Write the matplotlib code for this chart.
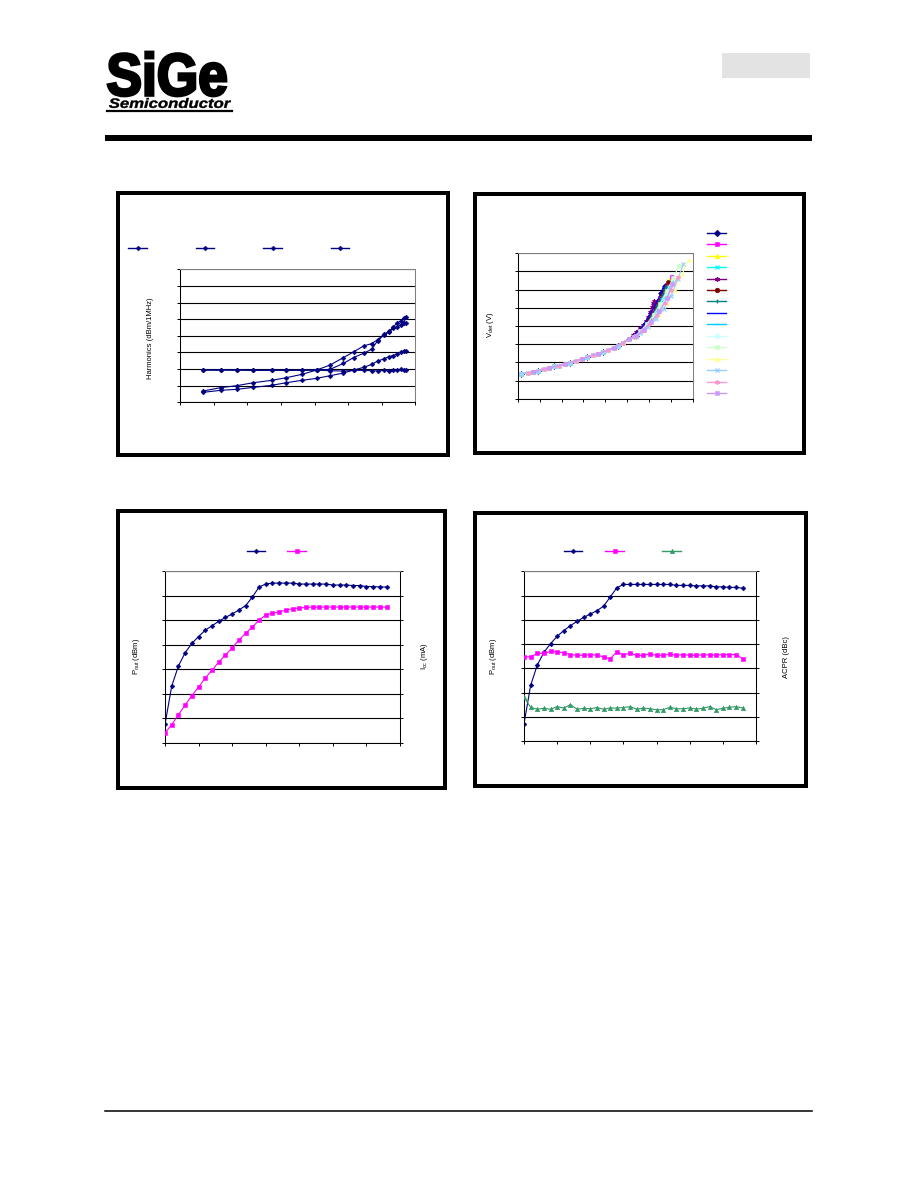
import numpy as np
import matplotlib
matplotlib.use("Agg")
import matplotlib.pyplot as plt
from matplotlib.lines import Line2D
from matplotlib.patches import Rectangle, PathPatch
from matplotlib.textpath import TextPath
from matplotlib.font_manager import FontProperties
from matplotlib.transforms import Affine2D

W, H = 918, 1188

# ---- harmonics vs output power (top left) ----
HARM_POUT = [3.4, 6.0, 8.4, 10.9, 13.6, 15.8, 18.1, 20.3, 22.3, 24.3, 25.8,
             27.3, 28.5, 29.4, 30.3, 31.1, 31.7, 32.3, 32.8, 33.3, 33.6]
HARM_A = [-73.2, -71.2, -70.0, -68.2, -66.8, -65.2, -63.2, -60.6, -57.6, -53.1, -49.7,
          -46.1, -44.7, -42.3, -39.1, -37.3, -34.9, -32.1, -31.3, -29.5, -28.5]
HARM_B = [-60.6, -60.6, -60.6, -60.6, -60.6, -60.6, -60.6, -60.6, -60.2, -56.6, -53.1,
          -50.5, -48.1, -42.9, -39.7, -37.7, -35.5, -34.5, -33.5, -32.1, -32.1]
HARM_C = [-74.0, -72.8, -72.2, -71.0, -69.8, -68.2, -66.8, -65.6, -64.0, -62.4, -60.6,
          -59.0, -57.2, -55.2, -53.9, -52.5, -51.9, -50.9, -49.9, -49.1, -49.1]
HARM_D = [-60.6, -60.6, -60.6, -60.8, -60.8, -60.8, -60.8, -60.6, -61.0, -61.2, -60.8,
          -60.8, -61.0, -61.2, -60.8, -61.0, -60.8, -60.8, -60.2, -60.6, -60.4]

# ---- detector voltage vs output power (top right), 15 traces ----
# lower part of the curve, three interleaved sampling sets
GRID_A_X = [0.8, 4.7, 8.3, 12.0, 15.9, 19.5, 22.8, 26.9]
GRID_A_Y = [0.34, 0.38, 0.445, 0.49, 0.57, 0.64, 0.725, 0.86]
GRID_B_X = [2.3, 5.9, 9.5, 13.3, 17.1, 20.6, 24.1]
GRID_B_Y = [0.35, 0.41, 0.455, 0.52, 0.60, 0.665, 0.77]
GRID_C_X = [3.4, 7.1, 10.8, 14.7, 18.3, 21.9, 25.3]
GRID_C_Y = [0.37, 0.42, 0.48, 0.55, 0.62, 0.70, 0.82]
# upper part of each trace
T1_X = [28.0, 29.3, 30.5, 31.8, 32.8, 33.5]
T1_Y = [0.94, 1.04, 1.18, 1.33, 1.45, 1.55]
T2_X = [26.5, 28.0, 29.5, 31.0, 32.5, 34.0, 35.3]
T2_Y = [0.86, 0.94, 1.05, 1.20, 1.38, 1.53, 1.68]
T3_X = [27.0, 28.5, 30.0, 31.5, 33.0, 34.5]
T3_Y = [0.88, 0.96, 1.09, 1.24, 1.43, 1.63]
T4_X = [28.0, 29.5, 31.0, 32.5, 34.0, 35.2]
T4_Y = [0.93, 1.01, 1.13, 1.26, 1.43, 1.60]
T5_X = [26.4, 27.1, 27.9, 28.7, 29.3, 29.8, 30.3, 30.6, 30.9, 31.0]
T5_Y = [0.87, 0.92, 0.97, 1.01, 1.07, 1.13, 1.19, 1.26, 1.31, 1.34]
T6_X = [27.0, 28.5, 30.0, 31.5, 33.0, 34.3]
T6_Y = [0.88, 0.96, 1.09, 1.25, 1.44, 1.61]
T7_X = [28.0, 29.5, 31.0, 32.5, 33.8]
T7_Y = [0.93, 1.03, 1.18, 1.35, 1.53]
T8_X = [26.5, 28.0, 29.5, 31.0, 32.3, 33.3]
T8_Y = [0.86, 0.96, 1.09, 1.25, 1.40, 1.55]
T9_X = [27.0, 28.5, 30.0, 31.5, 33.0, 34.5]
T9_Y = [0.88, 0.95, 1.06, 1.21, 1.38, 1.55]
T10_X = [28.0, 29.5, 31.0, 32.5, 34.0, 35.3]
T10_Y = [0.91, 1.00, 1.11, 1.25, 1.41, 1.58]
T11_X = [26.5, 28.0, 29.5, 31.0, 32.5, 34.0, 35.5, 36.8]
T11_Y = [0.85, 0.93, 1.03, 1.15, 1.30, 1.48, 1.66, 1.83]
T12_X = [27.0, 28.8, 30.5, 32.3, 34.0, 35.8, 37.5, 39.0]
T12_Y = [0.86, 0.94, 1.04, 1.16, 1.31, 1.50, 1.71, 1.91]
T13_X = [28.0, 29.8, 31.5, 33.3, 35.0, 36.5, 37.8]
T13_Y = [0.90, 0.99, 1.10, 1.24, 1.41, 1.64, 1.85]
T14_X = [26.5, 28.3, 30.0, 31.8, 33.5, 35.0, 36.5]
T14_Y = [0.85, 0.93, 1.03, 1.15, 1.31, 1.50, 1.67]
T15_X = [27.0, 28.8, 30.5, 32.3, 34.0, 35.3]
T15_Y = [0.86, 0.95, 1.06, 1.20, 1.38, 1.58]

VDET_COLORS = ["#000080", "#FF00FF", "#FFFF00", "#00FFFF", "#800080", "#800000",
               "#008080", "#0000FF", "#00CCFF", "#CCFFFF", "#CCFFCC", "#FFFF99",
               "#99CCFF", "#FF99CC", "#CC99FF"]
VDET_MARKERS = ["D", "s", "^", "x", (6, 2, 0), "o", "+", "None", "_",
                "o", "s", "^", "x", (6, 2, 0), "s"]

# ---- input power sweep (bottom charts) ----
PIN = [-30, -29, -28, -27, -26, -25, -24, -23, -22, -21, -20, -19, -18, -17, -16, -15, -14,
       -13, -12, -11, -10, -9, -8, -7, -6, -5, -4, -3, -2, -1, 0, 1, 2, 3]
POUT_ICC_RUN = [3.8, 11.6, 15.7, 18.4, 20.3, 21.7, 23.0, 23.9, 24.8, 25.6, 26.3, 27.1,
                28.0, 29.7, 31.8, 32.4, 32.6, 32.6, 32.6, 32.6, 32.4, 32.4, 32.4, 32.4,
                32.4, 32.2, 32.2, 32.2, 32.1, 32.1, 31.9, 31.9, 31.8, 31.8]
ICC = [41, 75, 115, 155, 193, 228, 265, 296, 330, 359, 387, 420, 447, 473, 500, 522, 529,
       535, 541, 548, 550, 553, 554, 554, 554, 554, 554, 554, 554, 554, 554, 554, 554, 554]
POUT_ACPR_RUN = [3.6, 11.5, 15.7, 18.3, 20.1, 21.6, 22.8, 23.8, 24.7, 25.5, 26.2, 26.9,
                 27.8, 29.7, 31.6, 32.3, 32.3, 32.3, 32.3, 32.3, 32.3, 32.3, 32.3, 32.1,
                 32.1, 32.1, 32.0, 32.0, 32.0, 31.8, 31.8, 31.7, 31.7, 31.5]
ACPR_1 = [-35.2, -35.2, -33.8, -33.8, -33.0, -33.2, -33.5, -34.3, -34.6, -34.6, -34.3, -34.6,
          -35.2, -36.0, -33.2, -34.3, -33.8, -34.6, -34.6, -34.1, -34.6, -34.6, -34.1, -34.6,
          -34.3, -34.6, -34.6, -34.4, -34.4, -34.6, -34.3, -34.3, -34.3, -36.0]
ACPR_2 = [-51.9, -56.0, -56.8, -56.4, -56.8, -55.7, -56.3, -54.9, -56.8, -56.4, -56.6, -56.1,
          -56.8, -56.3, -56.3, -56.1, -55.7, -56.8, -56.3, -56.6, -57.0, -57.0, -56.0, -56.6,
          -56.6, -56.3, -56.7, -56.4, -55.7, -57.0, -56.4, -56.0, -55.7, -56.3]

NAVY = "#000080"
MAGENTA = "#FF00FF"
GREEN = "#339966"
GRAY = "#808080"

plt.rcParams["font.family"] = ["Liberation Sans", "DejaVu Sans"]
plt.rcParams["mathtext.default"] = "regular"
plt.rcParams["axes.linewidth"] = 0.75

fig = plt.figure(figsize=(W / 100, H / 100), dpi=100)
# pixel coords, origin top-left
PX = Affine2D().scale(1.0 / W, -1.0 / H).translate(0, 1) + fig.transFigure


def px_axes(x0, y0, x1, y1):
    return fig.add_axes([x0 / W, 1 - y1 / H, (x1 - x0) / W, (y1 - y0) / H])


def frame(x0, y0, x1, y1, lw=4):
    # lw in pixels, drawn inside the outer edge
    h = lw / 2
    fig.add_artist(Rectangle((x0 + h, y0 + h), x1 - x0 - lw, y1 - y0 - lw, transform=PX,
                             fc="none", ec="black", lw=lw * 0.72))


def key(x0, x1, y, color, marker, ms=3.2, mew=0.8):
    fig.add_artist(Line2D([x0, x1], [y, y], transform=PX, color=color, lw=1.0))
    fig.add_artist(Line2D([(x0 + x1) / 2], [y], transform=PX, ls="none", marker=marker,
                          ms=ms, mew=mew, color=color, mfc=color, mec=color))


def fit_text(s, x0, y0, x1, y1, prop, stroke=0.0):
    tp = TextPath((0, 0), s, size=100, prop=prop)
    bb = tp.get_extents()
    tr = (Affine2D().translate(-bb.x0, -bb.y1)
          .scale((x1 - x0) / bb.width, -(y1 - y0) / bb.height).translate(x0, y0))
    fig.add_artist(PathPatch(tr.transform_path(tp), transform=PX, fc="black",
                             ec="black", lw=stroke))


def style(ax, xlim, xticks, ylim, yticks):
    ax.set_xlim(xlim)
    ax.set_ylim(ylim)
    ax.set_xticks(xticks)
    ax.set_yticks(yticks)
    ax.tick_params(direction="out", length=2.5, width=0.7, labelbottom=False, labelleft=False)
    ax.grid(axis="y", color="black", lw=0.8)
    ax.set_axisbelow(True)
    ax.spines["top"].set_color(GRAY)
    ax.spines["right"].set_color(GRAY)
    ax.patch.set_alpha(0)


def twin(ax, ylim, yticks):
    ax2 = ax.twinx()
    ax2.set_ylim(ylim)
    ax2.set_yticks(yticks)
    ax2.tick_params(direction="out", length=2.5, width=0.7, labelright=False)
    ax2.spines["right"].set_color("black")
    ax2.spines["top"].set_color(GRAY)
    ax2.spines["left"].set_visible(False)
    ax2.spines["bottom"].set_visible(False)
    ax.spines["right"].set_visible(False)
    return ax2


# ---- page header / footer ----
fit_text("SiGe", 108, 52, 226, 96, FontProperties(family="Liberation Sans", weight="bold"),
         stroke=2.0)
fit_text("Semiconductor", 109, 98, 231, 108,
         FontProperties(family="Liberation Sans", weight="bold", style="italic"), stroke=0.3)
fig.add_artist(Line2D([107, 232], [110.5, 110.5], transform=PX, color="black", lw=1.6))
fig.add_artist(Rectangle((722, 53), 88, 25, transform=PX, fc="#e3e3e3", ec="none"))
fig.add_artist(Rectangle((105, 135), 707, 6, transform=PX, fc="black", ec="none"))
fig.add_artist(Line2D([105, 812], [1111, 1111], transform=PX, color="black", lw=1.1))

frame(116, 191, 450, 457)
frame(473, 192, 806, 455)
frame(116, 509, 447, 790)
frame(473, 511, 808, 788)

lab = dict(fontsize=5.5, rotation=90, ha="center", va="center", transform=PX)

# ---- top left: harmonics ----
ax1 = px_axes(180.3, 269.3, 415.3, 402.3)
style(ax1, (0, 35), np.arange(0, 36, 5), (-80, 0), np.arange(-80, 1, 10))
for ys in (HARM_D, HARM_C, HARM_B, HARM_A):
    ax1.plot(HARM_POUT, ys, color=NAVY, lw=0.8, marker="D", ms=2.4, mew=0.4)
for x0, x1 in ((128, 147), (196, 214), (263, 282), (331, 349)):
    key(x0, x1, 248, NAVY, "D", ms=2.4, mew=0.4)
fig.text(151, 338, "Harmonics (dBm/1MHz)", **lab)

# ---- top right: detector voltage ----
ax2 = px_axes(517.7, 253.3, 693, 398.7)
style(ax2, (0, 40), np.arange(0, 41, 5), (0, 2.0), np.arange(0, 2.01, 0.25))
grids = [(GRID_A_X, GRID_A_Y), (GRID_B_X, GRID_B_Y), (GRID_C_X, GRID_C_Y)]
tails = [(T1_X, T1_Y), (T2_X, T2_Y), (T3_X, T3_Y), (T4_X, T4_Y), (T5_X, T5_Y),
         (T6_X, T6_Y), (T7_X, T7_Y), (T8_X, T8_Y), (T9_X, T9_Y), (T10_X, T10_Y),
         (T11_X, T11_Y), (T12_X, T12_Y), (T13_X, T13_Y), (T14_X, T14_Y), (T15_X, T15_Y)]
for i, (tx, ty) in enumerate(tails):
    gx, gy = grids[i % 3]
    mk = VDET_MARKERS[i]
    thin = mk in ("x", "+", "_") or isinstance(mk, tuple)
    ax2.plot(gx + tx, gy + ty, color=VDET_COLORS[i], lw=0.8, marker=mk, ms=3.0,
             mew=0.8 if thin else 0.4)
    key(707, 726, 232.7 + i * 11.45, VDET_COLORS[i], mk, ms=3.4,
        mew=0.9 if thin else 0.4)
fig.text(491, 325, r"V$_{det}$ (V)", **lab)

# ---- bottom left: Pout and Icc ----
ax3 = px_axes(165, 571.3, 400, 743)
style(ax3, (-30, 5), np.arange(-30, 6, 5), (0, 35), np.arange(0, 36, 5))
ax3b = twin(ax3, (0, 700), np.arange(0, 701, 100))
ax3.plot(PIN, POUT_ICC_RUN, color=NAVY, lw=0.8, marker="D", ms=2.4, mew=0.4)
ax3b.plot(PIN, ICC, color=MAGENTA, lw=0.8, marker="s", ms=2.8, mew=0.4)
key(247, 265, 550.7, NAVY, "D", ms=2.4, mew=0.4)
key(287, 306, 550.7, MAGENTA, "s", ms=2.8, mew=0.4)
fig.text(136.5, 656, r"P$_{out}$ (dBm)", **lab)
fig.text(424, 656, r"I$_{cc}$ (mA)", **lab)

# ---- bottom right: Pout and ACPR ----
ax4 = px_axes(524, 571.3, 756, 741.3)
style(ax4, (-30, 5), np.arange(-30, 6, 5), (0, 35), np.arange(0, 36, 5))
ax4b = twin(ax4, (-70, 0), np.arange(-70, 1, 10))
ax4.plot(PIN, POUT_ACPR_RUN, color=NAVY, lw=0.8, marker="D", ms=2.4, mew=0.4)
ax4b.plot(PIN, ACPR_1, color=MAGENTA, lw=0.8, marker="s", ms=2.8, mew=0.4)
ax4b.plot(PIN, ACPR_2, color=GREEN, lw=0.8, marker="^", ms=3.2, mew=0.4)
key(564, 582, 551.3, NAVY, "D", ms=2.4, mew=0.4)
key(605, 624, 551.3, MAGENTA, "s", ms=2.8, mew=0.4)
key(662, 681, 551.3, GREEN, "^", ms=3.2, mew=0.4)
fig.text(493.5, 656, r"P$_{out}$ (dBm)", **lab)
fig.text(786, 657, "ACPR (dBc)", **lab)

fig.savefig("out.png", dpi=100)
